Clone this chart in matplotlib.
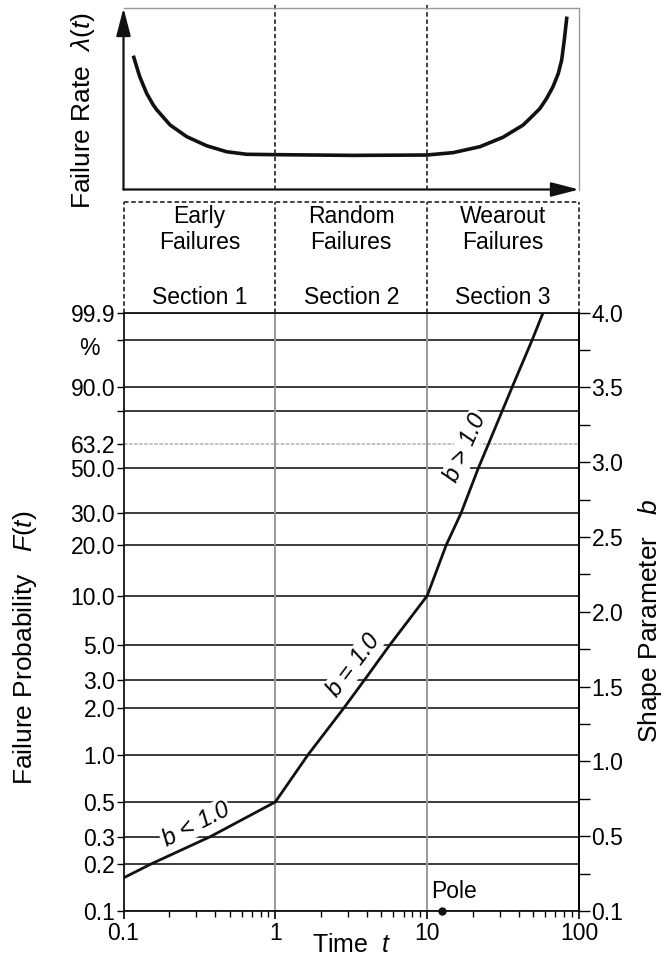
import numpy as np
import matplotlib as mpl
mpl.use('Agg')
from matplotlib import pyplot as plt
from matplotlib.ticker import LogLocator, NullFormatter, FixedLocator

plt.rcParams['font.family'] = ['Liberation Sans', 'DejaVu Sans']
plt.rcParams['mathtext.fontset'] = 'custom'
plt.rcParams['mathtext.rm'] = 'Liberation Sans'
plt.rcParams['mathtext.it'] = 'Liberation Sans:italic'

# bathtub curve (top panel), failure rate in arbitrary units
rate_t = [0.117, 0.122, 0.128, 0.142, 0.157, 0.166, 0.203, 0.261, 0.353, 0.478, 0.648,
          0.995, 3.25, 9.93, 14.8, 22.3, 31.6, 42.8, 47.6, 55.4, 61.2, 67.4, 73.1,
          76.9, 80.0, 83.0]
rate_val = [0.728, 0.677, 0.621, 0.530, 0.466, 0.438, 0.355, 0.291, 0.241, 0.208, 0.194,
            0.192, 0.188, 0.190, 0.203, 0.236, 0.288, 0.355, 0.392, 0.447, 0.502, 0.566,
            0.640, 0.713, 0.824, 0.943]

# Weibull plot line, failure probability in %
curve_t = [0.1, 0.1515, 0.374, 1.0, 1.64, 2.84, 3.87, 5.70, 10.0,
           13.35, 16.7, 21.7, 25.4, 36.3, 49.1, 58.0]
curve_F = [0.163, 0.2, 0.3, 0.5, 1.0, 2.0, 3.0, 5.0, 10.0,
           20.0, 30.0, 50.0, 63.2, 90.0, 99.0, 99.9]

grid_F = [99.9, 99.0, 90.0, 80.0, 50.0, 30.0, 20.0, 10.0, 5.0, 3.0, 2.0, 1.0, 0.5, 0.3, 0.2, 0.1]
grid_labels = ['99.9', '', '90.0', '', '50.0', '30.0', '20.0', '10.0', '5.0', '3.0', '2.0',
               '1.0', '0.5', '0.3', '0.2', '0.1']
char_F = 63.2

b_ticks = np.arange(0, 4.01, 0.25)
b_labels = ['0.1', '', '0.5', '', '1.0', '', '1.5', '', '2.0', '', '2.5', '', '3.0', '',
            '3.5', '', '4.0']

x_ticks = [0.1, 1, 10, 100]
x_labels = ['0.1', '1', '10', '100']
section_bounds = [1, 10]
section_mid = [0.316, 3.16, 31.6]
section_names = ['Early\nFailures', 'Random\nFailures', 'Wearout\nFailures']
section_nums = ['Section 1', 'Section 2', 'Section 3']

pole_t, pole_F = 12.5, 0.1

FS = 16.5   # tick labels and texts
LFS = 19    # axis titles
W, H = 665, 958
fig = plt.figure(figsize=(W / 100, H / 100), dpi=100)


def box(x0, y0, x1, y1):
    # pixel box -> figure fraction rect
    return [x0 / W, 1 - y1 / H, (x1 - x0) / W, (y1 - y0) / H]


def fwd(F):
    F = np.clip(np.asarray(F, dtype=float) / 100.0, 1e-9, 1 - 1e-9)
    return np.log(-np.log(1 - F))


def inv(y):
    return 100.0 * (1 - np.exp(-np.exp(y)))


# ---- top panel: failure rate
ax_top = fig.add_axes(box(123.5, 8, 579, 189.5))
ax_top.set_xscale('log')
ax_top.set_xlim(0.1, 100)
ax_top.set_ylim(0, 1)
ax_top.plot(rate_t, rate_val, color='#111111', lw=2.6, solid_joinstyle='round')
for xb in section_bounds:
    ax_top.axvline(xb, color='#333333', lw=1.3, ls=(0, (2.5, 1.5)), ymin=0, ymax=1.02,
                   clip_on=False)
ax_top.set_xticks([])
ax_top.set_yticks([])
ax_top.minorticks_off()
for s in ['top', 'right']:
    ax_top.spines[s].set_color('#999999')
    ax_top.spines[s].set_linewidth(1.0)
for s in ['left', 'bottom']:
    ax_top.spines[s].set_visible(False)
arrow = dict(arrowstyle='-|>,head_length=0.85,head_width=0.22', color='#111111', lw=1.6,
             mutation_scale=20, shrinkA=0, shrinkB=0)
ax_top.annotate('', xy=(0, 1.0), xytext=(0, 0), xycoords='axes fraction',
                textcoords='axes fraction', arrowprops=arrow, annotation_clip=False)
ax_top.annotate('', xy=(1.0, 0), xytext=(0, 0), xycoords='axes fraction',
                textcoords='axes fraction', arrowprops=arrow, annotation_clip=False)
fig.text(83 / W, 1 - 111 / H, r'Failure Rate  $\lambda(t)$', rotation=90,
         ha='center', va='center', fontsize=LFS)

# ---- section boxes
ax_sec = fig.add_axes(box(123.5, 201.7, 579, 312.7))
ax_sec.set_xscale('log')
ax_sec.set_xlim(0.1, 100)
ax_sec.set_ylim(0, 1)
ax_sec.axis('off')
dash = dict(color='#333333', lw=1.3, ls=(0, (2.5, 1.5)), clip_on=False)
ax_sec.axhline(1, **dash)
for xb in [0.1] + section_bounds + [100]:
    ax_sec.axvline(xb, **dash)
for xm, nm, num in zip(section_mid, section_names, section_nums):
    ax_sec.text(xm, 0.75, nm, ha='center', va='center', fontsize=FS, linespacing=1.15)
    ax_sec.text(xm, 0.14, num, ha='center', va='center', fontsize=FS)

# ---- Weibull plot
ax = fig.add_axes(box(123.5, 312.7, 579, 911))
ax.set_xscale('log')
ax.set_yscale('function', functions=(fwd, inv))
ax.set_xlim(0.1, 100)
ax.set_ylim(0.1, 99.9)

for F in grid_F:
    ax.axhline(F, color='#1a1a1a', lw=1.2, zorder=1)
ax.axhline(char_F, color='#bdbdbd', lw=1.3, ls=(0, (2, 0.8)), zorder=1)
for xb in section_bounds:
    ax.axvline(xb, color='#999999', lw=1.4, zorder=1)

ax.plot(curve_t, curve_F, color='#111111', lw=2.0, zorder=3)
ax.plot([pole_t], [pole_F], 'o', color='#111111', ms=5, zorder=5, clip_on=False)
ax.annotate('Pole', (pole_t, pole_F), xytext=(8.4, 14.4), textcoords='offset points',
            ha='center', va='center', fontsize=FS)

bb = dict(facecolor='white', edgecolor='none', pad=0.5)
ax.text(0.300, 0.361, '$b$ < 1.0', rotation=27, rotation_mode='anchor', ha='center',
        va='center', fontsize=17, style='italic', bbox=bb, zorder=4)
ax.text(3.27, 3.72, '$b$ = 1.0', rotation=53, rotation_mode='anchor', ha='center',
        va='center', fontsize=17, style='italic', bbox=bb, zorder=4)
ax.text(18.0, 61.3, '$b$ > 1.0', rotation=66, rotation_mode='anchor', ha='center',
        va='center', fontsize=17, style='italic', bbox=bb, zorder=4)

ax.yaxis.set_major_locator(FixedLocator(grid_F + [char_F]))
ax.set_yticklabels(grid_labels + ['63.2'])
ax.yaxis.set_minor_locator(FixedLocator([]))
ax.tick_params(axis='y', direction='out', length=5, width=1.0, pad=1, labelsize=FS)
ax.text(-0.075, 98.3, '%', transform=ax.get_yaxis_transform(), ha='center', va='center',
        fontsize=FS)

ax.set_xticks(x_ticks)
ax.set_xticklabels(x_labels)
ax.xaxis.set_minor_locator(LogLocator(base=10, subs=np.arange(2, 10)))
ax.xaxis.set_minor_formatter(NullFormatter())
ax.tick_params(axis='x', which='major', direction='out', length=6, width=1.2, pad=2,
               labelsize=FS)
ax.tick_params(axis='x', which='minor', direction='out', length=4, width=1.0)
ax.set_xlabel('Time  $t$', fontsize=LFS - 1, labelpad=-9)
for s in ax.spines.values():
    s.set_color('#111111')
    s.set_linewidth(1.3)

axr = ax.twinx()
axr.set_ylim(0, 4)
axr.set_yticks(b_ticks)
axr.set_yticklabels(b_labels)
axr.tick_params(axis='y', direction='out', length=8, width=1.0, pad=1, labelsize=FS)
for s in ['top', 'left', 'bottom']:
    axr.spines[s].set_visible(False)
axr.spines['right'].set_linewidth(1.3)

fig.text(25 / W, 1 - 648 / H, 'Failure Probability   $F(t)$', rotation=90, ha='center',
         va='center', fontsize=LFS)
fig.text(650 / W, 1 - 621 / H, 'Shape Parameter   $b$', rotation=90, ha='center',
         va='center', fontsize=LFS)

fig.savefig('out.png', dpi=100)
